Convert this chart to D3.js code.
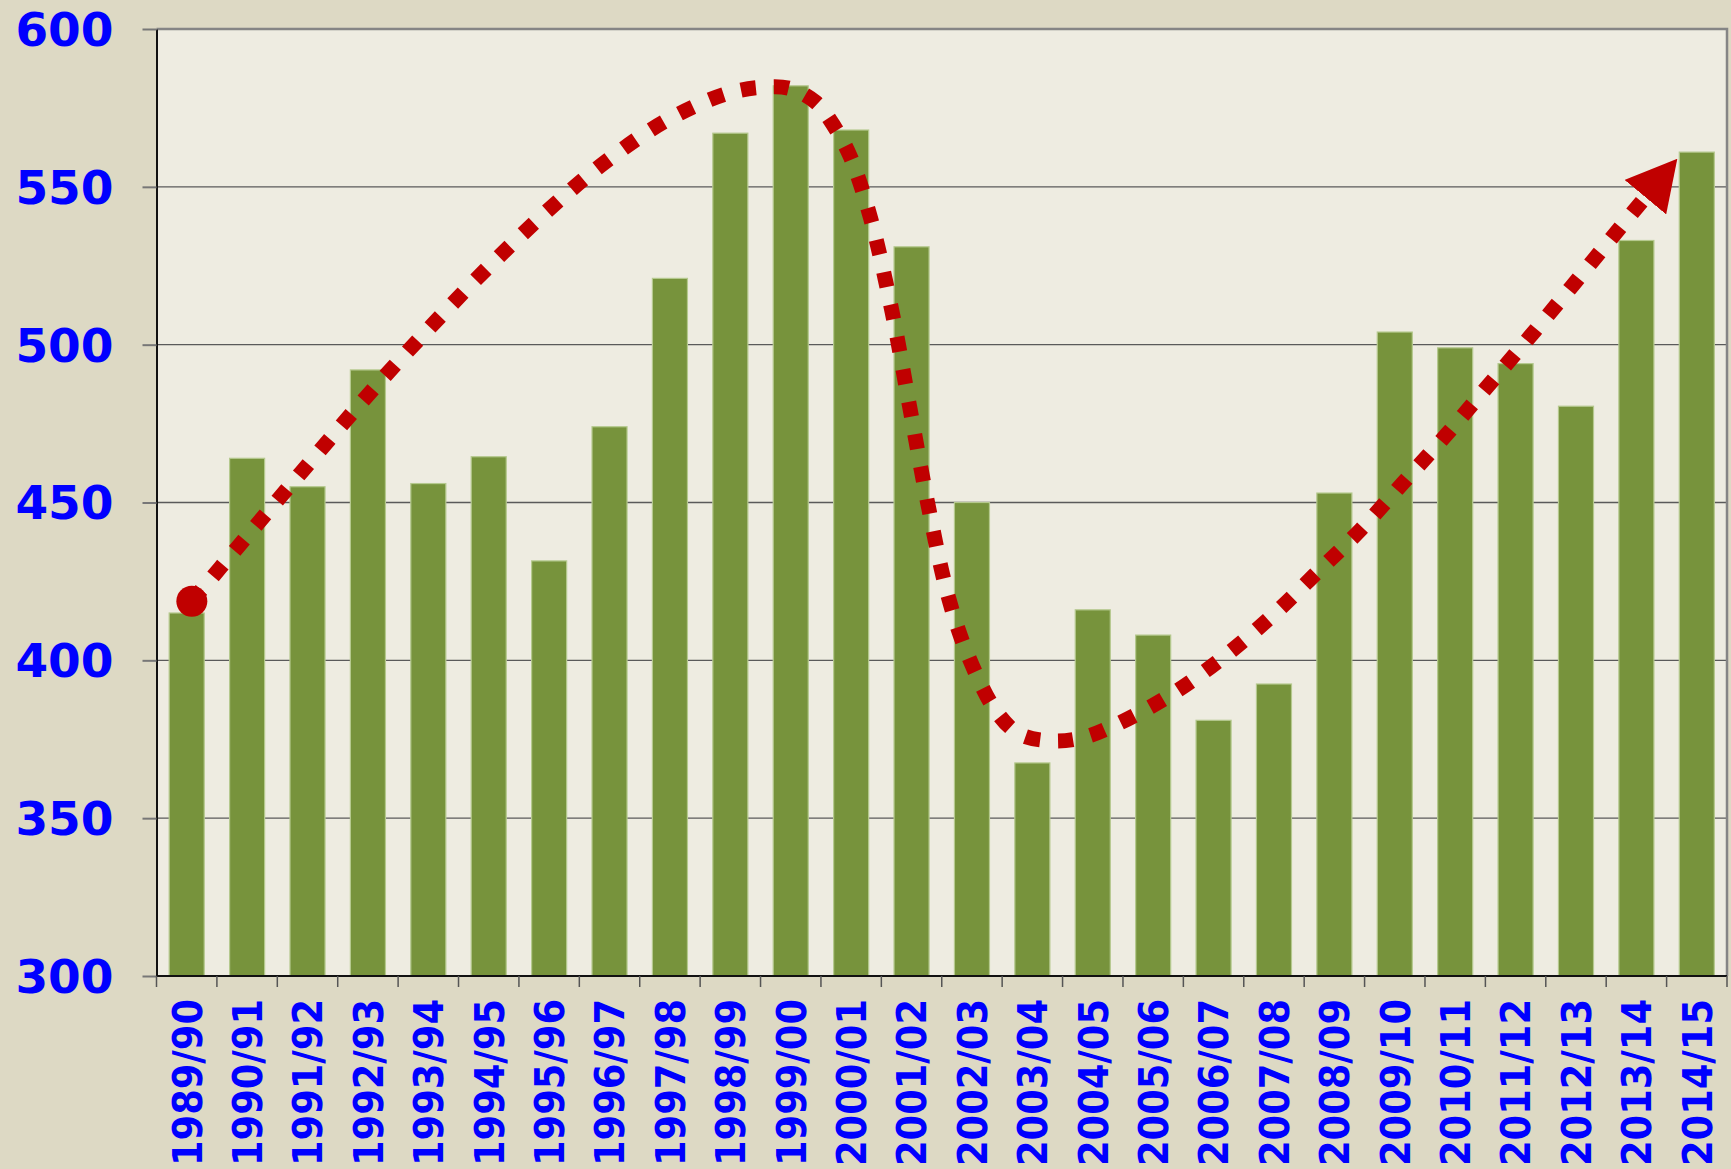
<!DOCTYPE html>
<html>
<head>
<meta charset="utf-8">
<script src="https://cdn.jsdelivr.net/npm/d3@7"></script>
<style>
  html, body { margin: 0; padding: 0; background: #DDD9C4; }
  svg { display: block; }
</style>
</head>
<body>
<script>
// categories (school years)
let years = ["1989/90","1990/91","1991/92","1992/93","1993/94","1994/95","1995/96","1996/97",
    "1997/98","1998/99","1999/00","2000/01","2001/02","2002/03","2003/04","2004/05","2005/06",
    "2006/07","2007/08","2008/09","2009/10","2010/11","2011/12","2012/13","2013/14","2014/15"];

// bar values
let values = [415, 464, 455, 492, 456, 464.5, 431.5, 474, 521, 567, 582, 568, 531, 450,
    367.5, 416, 408, 381, 392.5, 453, 504, 499, 494, 480.5, 533, 561];

// y ticks
let yTicks = [300, 350, 400, 450, 500, 550, 600];

// hand-drawn trend: position along category index, value
let trendIdx = [0.085, 0.86, 1.89, 2.92, 4.0, 5.1, 6.26, 7.07, 7.96, 8.92, 9.5, 9.98, 10.42, 10.74,
    10.99, 11.32, 11.68, 11.97, 12.26, 12.6, 12.94, 13.41, 13.79, 14.31, 14.83, 15.34, 16.27,
    17.11, 17.93, 18.69, 19.44, 20.15, 20.86, 21.55, 22.24, 22.92, 23.59, 24.17];
let trendVal = [418.7, 436.2, 459.4, 482.3, 504.9, 526.6, 547.3, 559.9, 571.2, 579.4, 581.5, 581.2,
    576.7, 568.5, 559.4, 540.2, 510.2, 480.2, 450.5, 420.7, 401.3, 383.6, 376.6, 374.5, 375.5, 379.2,
    388.8, 400.2, 413.4, 427.4, 441.5, 456.5, 471.6, 487.1, 502.6, 518.2, 533.8, 547.2];

let margin = { top: 29, right: 4, bottom: 193, left: 156.5 },
    width = 1731 - margin.left - margin.right,
    height = 1169 - margin.top - margin.bottom;

let svg = d3.select("body").append("svg")
    .attr("width", 1731)
    .attr("height", 1169);

svg.append("rect")
    .attr("width", 1731).attr("height", 1169)
    .attr("fill", "#DDD9C4");

let defs = svg.append("defs");
defs.append("marker")
    .attr("id", "arrow")
    .attr("markerUnits", "userSpaceOnUse")
    .attr("viewBox", "0 0 50 54")
    .attr("markerWidth", 50)
    .attr("markerHeight", 54)
    .attr("refX", 2)
    .attr("refY", 27)
    .attr("orient", "auto")
  .append("path")
    .attr("d", "M0,0 L50,27 L0,54 Z")
    .attr("fill", "#C00000");

let g = svg.append("g")
    .attr("transform", "translate(" + margin.left + "," + margin.top + ")");

let x = d3.scaleBand()
    .domain(years)
    .range([0, width])
    .paddingInner(0.42)
    .paddingOuter(0.21);

let xi = d3.scaleLinear()
    .domain([-0.5, years.length - 0.5])
    .range([0, width]);

let y = d3.scaleLinear()
    .domain([300, 600])
    .range([height, 0]);

// plot background
g.append("rect")
    .attr("width", width)
    .attr("height", height)
    .attr("fill", "#EEECE1");

// gridlines
g.selectAll(".grid")
    .data(yTicks.filter(d => d > 300 && d < 600))
  .enter().append("line")
    .attr("class", "grid")
    .attr("x1", 0).attr("x2", width)
    .attr("y1", d => y(d)).attr("y2", d => y(d))
    .attr("stroke", "#5a5a5a")
    .attr("stroke-width", 1.3);

// top and right frame
g.append("path")
    .attr("d", "M0,0 H" + width + " V" + height)
    .attr("fill", "none")
    .attr("stroke", "#858585")
    .attr("stroke-width", 2.5);

// bars
g.selectAll(".bar")
    .data(values)
  .enter().append("rect")
    .attr("class", "bar")
    .attr("x", (d, i) => x(years[i]))
    .attr("y", d => y(d))
    .attr("width", x.bandwidth())
    .attr("height", d => height - y(d))
    .attr("fill", "#77933C")
    .attr("stroke", "#B5C98E")
    .attr("stroke-width", 1.2);

// y axis
let yAxis = g.append("g")
    .call(d3.axisLeft(y).tickValues(yTicks).tickSize(14).tickPadding(29).tickSizeOuter(0));
yAxis.select(".domain").attr("stroke", "#111").attr("stroke-width", 2);
yAxis.selectAll(".tick line").attr("stroke", "#777").attr("stroke-width", 2);
yAxis.selectAll(".tick text")
    .attr("fill", "#0000FF")
    .attr("font-family", "DejaVu Sans, sans-serif")
    .attr("font-weight", "bold")
    .attr("font-size", "47px")
    .attr("dy", "0.35em");

// x axis ticks at band boundaries
let xAxis = g.append("g")
    .attr("transform", "translate(0," + height + ")");
xAxis.append("line")
    .attr("x1", 0).attr("x2", width)
    .attr("stroke", "#111").attr("stroke-width", 2);
xAxis.selectAll(".xt")
    .data(d3.range(years.length + 1))
  .enter().append("line")
    .attr("class", "xt")
    .attr("x1", d => xi(d - 0.5)).attr("x2", d => xi(d - 0.5))
    .attr("y1", 0).attr("y2", 11)
    .attr("stroke", "#555").attr("stroke-width", 1.5);
xAxis.selectAll(".xl")
    .data(years)
  .enter().append("text")
    .attr("class", "xl")
    .attr("transform", d => "translate(" + (x(d) + x.bandwidth() / 2 + 0.5) + ",23) rotate(-90)")
    .attr("text-anchor", "end")
    .attr("dy", "0.36em")
    .attr("fill", "#0000FF")
    .attr("font-family", "DejaVu Sans, sans-serif")
    .attr("font-weight", "bold")
    .attr("font-size", "40px")
    .attr("textLength", 167)
    .attr("lengthAdjust", "spacingAndGlyphs")
    .text(d => d);

// trend curve
let trend = trendIdx.map((d, i) => [xi(d), y(trendVal[i])]);
let line = d3.line().curve(d3.curveCatmullRom.alpha(0.5));

g.append("path")
    .attr("d", line(trend))
    .attr("fill", "none")
    .attr("stroke", "#C00000")
    .attr("stroke-width", 15)
    .attr("stroke-dasharray", "15 18")
    .attr("marker-end", "url(#arrow)");

g.append("circle")
    .attr("cx", trend[0][0])
    .attr("cy", trend[0][1])
    .attr("r", 15.5)
    .attr("fill", "#C00000");
</script>
</body>
</html>
